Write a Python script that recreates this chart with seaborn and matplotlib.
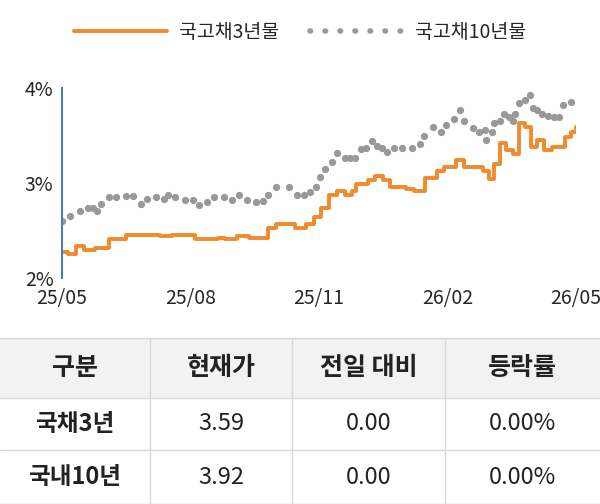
import matplotlib
matplotlib.use("Agg")
import matplotlib.pyplot as plt
import seaborn as sns
from matplotlib.patches import Rectangle
from matplotlib.lines import Line2D

sns.set_style("white")
plt.rcParams['font.family'] = ['Noto Sans CJK KR', 'DejaVu Sans']

s3_x = [0.02,.15,.33,.51,.78,.96,1.09,1.32,1.50,1.76,2.12,2.30,2.57,2.93,3.11,3.38,3.64,3.82,4.09,4.36,4.63,4.81,4.99,5.35,5.44,5.70,5.88,6.06,6.24,6.42,6.60,6.78,6.87,7.14,7.32,7.50,7.67,8.03,8.21,8.48,8.75,8.93,9.20,9.38,9.82,9.96,10.09,10.23,10.36,10.54,10.67,10.81,10.94,11.08,11.26,11.44,11.70,11.75,11.88,12.0]
s3_y = [2.28,2.25,2.34,2.30,2.32,2.32,2.41,2.41,2.46,2.46,2.46,2.44,2.46,2.46,2.41,2.41,2.42,2.41,2.44,2.42,2.42,2.53,2.57,2.57,2.53,2.57,2.64,2.74,2.88,2.92,2.88,2.92,2.99,3.03,3.08,3.03,2.96,2.94,2.92,3.06,3.13,3.17,3.24,3.17,3.13,3.04,3.20,3.42,3.35,3.31,3.63,3.59,3.38,3.45,3.35,3.38,3.38,3.49,3.54,3.59]
s10_x = [0,.20,.42,.60,.73,.82,.91,1.09,1.27,1.50,1.67,1.84,1.99,2.21,2.39,2.48,2.64,2.88,3.06,3.20,3.38,3.56,3.78,3.98,4.14,4.32,4.54,4.70,4.81,4.99,5.30,5.48,5.66,5.79,5.93,6.02,6.15,6.30,6.42,6.60,6.73,6.85,6.98,7.09,7.23,7.36,7.48,7.58,7.76,7.94,8.17,8.35,8.46,8.66,8.84,8.97,9.15,9.29,9.38,9.60,9.73,9.87,9.91,10.05,10.09,10.23,10.32,10.43,10.54,10.58,10.67,10.81,10.92,10.99,11.08,11.21,11.35,11.48,11.61,11.70,11.88]
s10_y = [2.60,2.65,2.71,2.74,2.74,2.71,2.78,2.85,2.85,2.87,2.87,2.78,2.83,2.85,2.83,2.88,2.85,2.82,2.82,2.77,2.80,2.85,2.85,2.82,2.88,2.82,2.80,2.81,2.88,2.96,2.96,2.88,2.88,2.91,2.96,3.07,3.15,3.22,3.32,3.27,3.27,3.27,3.36,3.37,3.44,3.39,3.37,3.33,3.37,3.37,3.37,3.41,3.50,3.59,3.54,3.61,3.68,3.77,3.65,3.58,3.54,3.56,3.45,3.54,3.63,3.65,3.73,3.70,3.65,3.73,3.84,3.88,3.93,3.79,3.77,3.73,3.71,3.70,3.70,3.82,3.86]
n = min(len(s10_x), len(s10_y))
s10_x, s10_y = s10_x[:n], s10_y[:n]

tick_pos = [0, 3, 6, 9, 12]
tick_labels = ["25/05", "25/08", "25/11", "26/02", "26/05"]
legend_names = ["국고채3년물", "국고채10년물"]
table_header = ["구분", "현재가", "전일 대비", "등락률"]
table_rows = [["국채3년", "3.59", "0.00", "0.00%"], ["국내10년", "3.92", "0.00", "0.00%"]]

orange = "#f28a2e"
gray = "#999999"

fig = plt.figure(figsize=(6, 5.04), dpi=100)
ax = fig.add_axes([0.103, 0.448, 0.857, 0.377])
sns.lineplot(x=s3_x, y=s3_y, ax=ax, color=orange, lw=2.8, drawstyle="steps-post")
ax.plot(s10_x, s10_y, ls="none", marker="o", ms=4.2, color=gray)
ax.set_xlim(0, 12)
ax.set_ylim(2, 4)
ax.set_yticks([2, 3, 4])
ax.set_yticklabels(["2%", "3%", "4%"], fontsize=14)
ax.set_xticks(tick_pos)
ax.set_xticklabels(tick_labels, fontsize=14)
ax.tick_params(axis="x", length=5, color="#bbbbbb", pad=2)
ax.tick_params(axis="y", length=4, color="#4a7ebb", pad=2)
for s in ["top", "right", "bottom"]:
    ax.spines[s].set_visible(False)
ax.spines["left"].set_color("#4a7ebb")
ax.spines["left"].set_linewidth(1.5)
h2 = [Line2D([], [], color=orange, lw=2.8),
      Line2D([], [], color=gray, ls=(0, (0.1, 2.6)), lw=4, dash_capstyle="round")]
fig.legend(h2, legend_names, loc="center", bbox_to_anchor=(0.5, 0.935), ncol=2, frameon=False,
           fontsize=14, handlelength=4.8, handletextpad=0.6, columnspacing=1.6)

tab = fig.add_axes([0, 0, 1, 1], zorder=-1)
tab.set_xlim(0, 600); tab.set_ylim(504, 0); tab.axis("off")
cols = [0, 150, 292, 445, 600]
rows = [338, 398, 450, 504]
tab.add_patch(Rectangle((0, rows[0]), 600, rows[1]-rows[0], color="#f2f2f2", lw=0))
for y in rows:
    tab.plot([0, 600], [y, y], color="#d9d9d9", lw=1)
for x in cols[1:-1]:
    tab.plot([x, x], [rows[0], rows[-1]], color="#d9d9d9", lw=1)
for i, t in enumerate(table_header):
    tab.text((cols[i]+cols[i+1])/2, (rows[0]+rows[1])/2, t, ha="center", va="center", fontsize=18, fontweight="bold", color="#222222")
for r, row in enumerate(table_rows):
    for i, t in enumerate(row):
        tab.text((cols[i]+cols[i+1])/2, (rows[r+1]+rows[r+2])/2, t, ha="center", va="center", fontsize=17,
                 fontweight="bold" if i == 0 else "normal", color="#222222")

fig.savefig("out.png", dpi=100)
